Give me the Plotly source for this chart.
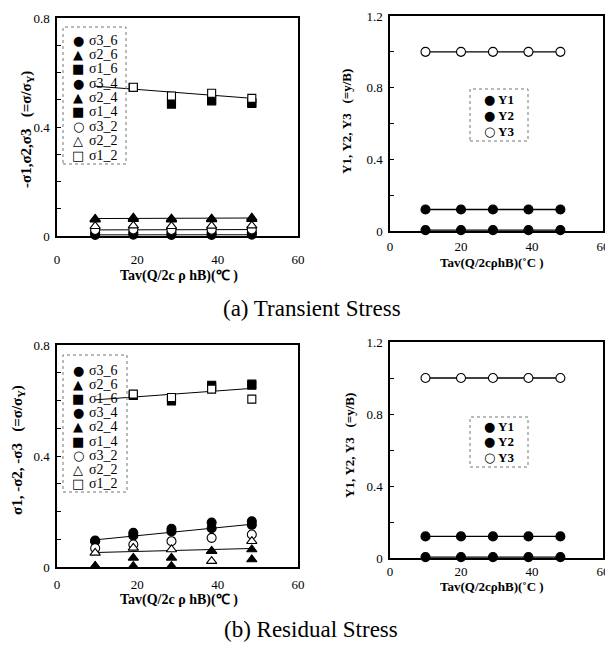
import numpy as np
import plotly.graph_objects as go

W, H = 613, 648
PAGE_MARGIN = 8  # default body margin of the html page
FW, FH = W - PAGE_MARGIN, H - PAGE_MARGIN

# ---------------- data ----------------
x_stress = [9.5, 19, 28.5, 38.5, 48.5]
x_pos = [10, 20, 29, 39, 48]

stress_names = ["σ3_6", "σ2_6", "σ1_6", "σ3_4", "σ2_4", "σ1_4", "σ3_2", "σ2_2", "σ1_2"]

# (a) Transient stress
tr_s3_6 = [0.004, 0.005, 0.004, 0.004, 0.005]
tr_s2_6 = [0.063, 0.067, 0.064, 0.064, 0.067]
tr_s1_6 = [None, 0.545, 0.488, 0.499, 0.490]
tr_s3_4 = [0.012, 0.013, 0.012, 0.012, 0.013]
tr_s2_4 = [0.060, 0.062, 0.060, 0.061, 0.062]
tr_s1_4 = [None, 0.545, 0.484, 0.496, 0.486]
tr_s3_2 = [0.022, 0.024, 0.022, 0.023, 0.024]
tr_s2_2 = [0.036, 0.038, 0.036, 0.037, 0.038]
tr_s1_2 = [None, 0.546, 0.514, 0.524, 0.505]

# (b) Residual stress
rs_s3_6 = [0.093, 0.123, 0.138, 0.160, 0.165]
rs_s2_6 = [0.003, 0.033, 0.033, 0.057, 0.063]
rs_s1_6 = [None, 0.620, 0.600, 0.655, 0.659]
rs_s3_4 = [0.095, 0.113, 0.128, 0.140, 0.152]
rs_s2_4 = [0.003, 0.003, 0.003, 0.057, 0.027]
rs_s1_4 = [None, 0.618, 0.598, 0.650, 0.655]
rs_s3_2 = [0.068, 0.081, 0.093, 0.105, 0.117]
rs_s2_2 = [0.051, 0.069, 0.063, 0.021, 0.093]
rs_s1_2 = [None, 0.623, 0.611, 0.641, 0.605]

# positions (y/B)
pos_names = ["Y1", "Y2", "Y3"]
tr_Y1 = [0.005, 0.005, 0.005, 0.005, 0.005]
tr_Y2 = [0.12, 0.12, 0.12, 0.12, 0.12]
tr_Y3 = [1.0, 1.0, 1.0, 1.0, 1.0]
rs_Y1 = [0.005, 0.005, 0.005, 0.005, 0.005]
rs_Y2 = [0.12, 0.12, 0.12, 0.12, 0.12]
rs_Y3 = [1.0, 1.0, 1.0, 1.0, 1.0]

x_ticks = [0, 20, 40, 60]
x_ticklabels = ["0", "20", "40", "60"]
y_ticks_stress = [0, 0.4, 0.8]
y_ticklabels_stress = ["0", "0.4", "0.8"]
y_minor_stress = 0.1
y_ticks_pos = [0, 0.4, 0.8, 1.2]
y_ticklabels_pos = ["0", "0.4", "0.8", "1.2"]
y_minor_pos = 0.2

tr_stress = [tr_s3_6, tr_s2_6, tr_s1_6, tr_s3_4, tr_s2_4, tr_s1_4, tr_s3_2, tr_s2_2, tr_s1_2]
rs_stress = [rs_s3_6, rs_s2_6, rs_s1_6, rs_s3_4, rs_s2_4, rs_s1_4, rs_s3_2, rs_s2_2, rs_s1_2]
tr_pos = [tr_Y1, tr_Y2, tr_Y3]
rs_pos = [rs_Y1, rs_Y2, rs_Y3]

# ---------------- styles ----------------
SERIF = "Liberation Serif"
SYM = "DejaVu Sans"
stress_style = {
    "σ3_6": ("circle", "black", 9, "●"),
    "σ2_6": ("triangle-up", "black", 9, "▲"),
    "σ1_6": ("square", "black", 8, "■"),
    "σ3_4": ("circle", "black", 9, "●"),
    "σ2_4": ("triangle-up", "black", 9, "▲"),
    "σ1_4": ("square", "black", 8, "■"),
    "σ3_2": ("circle", "white", 9, "○"),
    "σ2_2": ("triangle-up", "white", 9, "△"),
    "σ1_2": ("square", "white", 8, "□"),
}
pos_style = {
    "Y1": ("circle", "black", 9, "●"),
    "Y2": ("circle", "black", 9, "●"),
    "Y3": ("circle", "white", 9, "○"),
}


def px(x):
    return (x - PAGE_MARGIN) / FW


def py(y):
    return 1 - (y - PAGE_MARGIN) / FH


def trend(x, *series):
    xs, ys = [], []
    for s in series:
        for xi, yi in zip(x, s):
            if yi is not None:
                xs.append(xi)
                ys.append(yi)
    k, b = np.polyfit(xs, ys, 1)
    xe = np.array([min(x), max(x)])
    return xe, k * xe + b


fig = go.Figure()


def add_markers(x, name, y, style, xa, ya):
    sym, col, size, _ = style[name]
    fig.add_trace(go.Scatter(
        x=x, y=y, mode="markers", name=name, showlegend=False,
        marker=dict(symbol=sym, color=col, size=size, line=dict(color="black", width=1.1)),
        cliponaxis=False, xaxis=xa, yaxis=ya))


def add_line(xe, ye, xa, ya, width=1.0):
    fig.add_trace(go.Scatter(
        x=xe, y=ye, mode="lines", showlegend=False, hoverinfo="skip",
        line=dict(color="black", width=width), cliponaxis=False, xaxis=xa, yaxis=ya))


# ---- (a) transient: stress panel ----
for xe, ye in [trend(x_stress, tr_s1_2), trend(x_stress, tr_s2_6),
               trend(x_stress, tr_s3_2), trend(x_stress, tr_s3_6)]:
    add_line(xe, ye, "x", "y")
for n, s in zip(stress_names, tr_stress):
    add_markers(x_stress, n, s, stress_style, "x", "y")

# ---- (a) transient: position panel ----
for s in tr_pos:
    add_line(x_pos, s, "x2", "y2", 1.4)
for n, s in zip(pos_names, tr_pos):
    add_markers(x_pos, n, s, pos_style, "x2", "y2")

# ---- (b) residual: stress panel ----
for xe, ye in [trend(x_stress, rs_s1_6, rs_s1_4, rs_s1_2), trend(x_stress, rs_s3_4),
               trend(x_stress, rs_s2_2)]:
    add_line(xe, ye, "x3", "y3")
for n, s in zip(stress_names, rs_stress):
    add_markers(x_stress, n, s, stress_style, "x3", "y3")

# ---- (b) residual: position panel ----
for s in rs_pos:
    add_line(x_pos, s, "x4", "y4", 1.4)
for n, s in zip(pos_names, rs_pos):
    add_markers(x_pos, n, s, pos_style, "x4", "y4")


# ---------------- axes ----------------
def xax(x0, x1, anchor, standoff):
    return dict(domain=[px(x0), px(x1)], anchor=anchor, range=[0, 60],
                tickvals=x_ticks, ticktext=x_ticklabels, ticks="",
                showgrid=False, zeroline=False, showline=True, mirror=True,
                linecolor="black", linewidth=1.5, automargin=False,
                tickfont=dict(family=SERIF, size=13, color="black"),
                ticklabelstandoff=standoff, ticklabeloverflow="allow",
                fixedrange=True)


def yax(y_bottom, y_top, anchor, rng, tv, tt, minor):
    return dict(domain=[py(y_bottom), py(y_top)], anchor=anchor, range=rng,
                tickvals=tv, ticktext=tt, ticks="inside", ticklen=4,
                tickcolor="black", tickwidth=1,
                minor=dict(dtick=minor, tick0=0, ticks="inside", ticklen=4,
                           tickcolor="black", tickwidth=1, showgrid=False),
                showgrid=False, zeroline=False, showline=True, mirror=True,
                linecolor="black", linewidth=1.5, automargin=False,
                tickfont=dict(family=SERIF, size=13, color="black"),
                ticklabelstandoff=3, ticklabeloverflow="allow",
                fixedrange=True)


fig.update_layout(
    width=FW, height=FH, autosize=False,
    margin=dict(l=0, r=0, t=0, b=0, pad=0),
    paper_bgcolor="white", plot_bgcolor="white",
    showlegend=False,
    xaxis=xax(57, 298, "y", 11),
    yaxis=yax(236, 18, "x", [0, 0.8], y_ticks_stress, y_ticklabels_stress, y_minor_stress),
    xaxis2=xax(390, 603, "y2", 3),
    yaxis2=yax(231, 16, "x2", [0, 1.2], y_ticks_pos, y_ticklabels_pos, y_minor_pos),
    xaxis3=xax(57, 298, "y3", 5),
    yaxis3=yax(567, 345, "x3", [0, 0.8], y_ticks_stress, y_ticklabels_stress, y_minor_stress),
    xaxis4=xax(390, 603, "y4", 1),
    yaxis4=yax(558, 342, "x4", [0, 1.2], y_ticks_pos, y_ticklabels_pos, y_minor_pos),
)

annotations = []
shapes = []


def text(x, y, t, size, angle=0, xanchor="center", family=SERIF):
    annotations.append(dict(
        x=px(x), y=py(y), xref="paper", yref="paper", text=t, showarrow=False,
        xanchor=xanchor, yanchor="middle", textangle=angle,
        font=dict(family=family, size=size, color="black")))


NB = "\u00a0"
# axis titles
text(179, 276, "<b>Tav(Q/2c" + NB + "ρ" + NB + "hB)(℃" + NB + ")</b>", 14)
text(179, 600, "<b>Tav(Q/2c" + NB + "ρ" + NB + "hB)(℃" + NB + ")</b>", 14)
text(492, 262, "<b>Tav(Q/2cρhB)(˚C" + NB + ")</b>", 13)
text(492, 586, "<b>Tav(Q/2cρhB)(˚C" + NB + ")</b>", 13)
text(27, 130, "<b>-σ1,σ2,σ3" + NB * 3 + "(=σ/σ<sub>Y</sub>)</b>", 15, angle=-90)
text(18, 450, "<b>σ1," + NB + "-σ2," + NB + "-σ3" + NB * 3 + "(=σ/σ<sub>Y</sub>)</b>", 15, angle=-90)
text(347, 122, "<b>Y1," + NB + "Y2," + NB + "Y3" + NB * 3 + "(=y/B)</b>", 13, angle=-90)
text(349, 446, "<b>Y1," + NB + "Y2," + NB + "Y3" + NB * 3 + "(=y/B)</b>", 13, angle=-90)

# captions
text(312, 308, "(a) Transient Stress", 23)
text(311, 629, "(b) Residual Stress", 23)


# legends (drawn as boxed lists)
def legend(names, style, box, row0, dy, gx, lx, gsize, lsize, bold=False):
    x0, y0, x1, y1 = box
    shapes.append(dict(type="rect", xref="paper", yref="paper",
                       x0=px(x0), x1=px(x1), y0=py(y1), y1=py(y0),
                       line=dict(color="#777777", width=1, dash="dot"),
                       fillcolor="rgba(0,0,0,0)"))
    for i, n in enumerate(names):
        yy = row0 + i * dy
        text(gx, yy, style[n][3], gsize, family=SYM)
        lab = "<b>" + n + "</b>" if bold else n
        text(lx, yy, lab, lsize, xanchor="left")


legend(stress_names, stress_style, (63, 27, 126, 164), 40, 14.4, 78, 87, 13, 14)
legend(stress_names, stress_style, (63, 355, 127, 492), 370, 14.2, 78, 87, 13, 14)
legend(pos_names, pos_style, (470, 89, 528, 141), 99.5, 16.2, 489, 496, 13, 13, bold=True)
legend(pos_names, pos_style, (470, 417, 528, 467), 426, 15.7, 489, 496, 13, 13, bold=True)

fig.update_layout(annotations=annotations, shapes=shapes)

fig.write_html("out.html")
